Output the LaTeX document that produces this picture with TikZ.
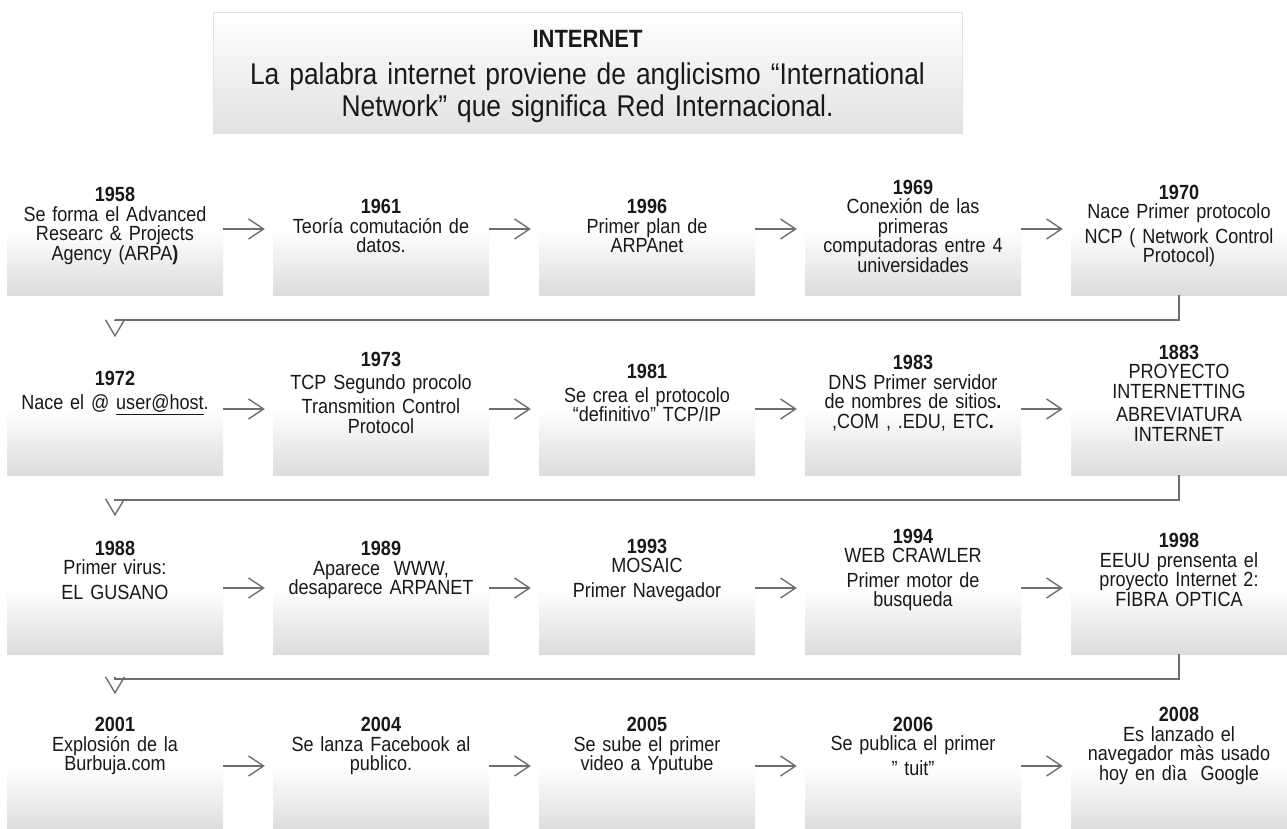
\documentclass[tikz,border=0pt]{standalone}
\usepackage{fontspec}
\setmainfont{Liberation Sans}[FakeStretch=0.88,WordSpace=0.85]
\usetikzlibrary{arrows.meta,calc}
\definecolor{boxgray}{RGB}{220,220,220}
\definecolor{titlegray}{RGB}{226,226,226}
\definecolor{linegray}{RGB}{110,110,110}
\pgfdeclarearrow{
  name = OpenV,
  parameters = {\the\pgfarrowlength,\the\pgfarrowwidth,\the\pgfarrowlinewidth},
  setup code = {
    \pgfarrowssettipend{0pt}
    \pgfarrowssetlineend{-\pgfarrowlength}
    \pgfarrowssetbackend{-\pgfarrowlength}
    \pgfarrowssavethe\pgfarrowlength
    \pgfarrowssavethe\pgfarrowwidth
    \pgfarrowssavethe\pgfarrowlinewidth
  },
  drawing code = {
    \pgfsetlinewidth{\pgfarrowlinewidth}
    \pgfsetmiterjoin
    \pgfpathmoveto{\pgfpoint{-\pgfarrowlength}{.5\pgfarrowwidth}}
    \pgfpathlineto{\pgfpointorigin}
    \pgfpathlineto{\pgfpoint{-\pgfarrowlength}{-.5\pgfarrowwidth}}
    \pgfusepathqstroke
  },
  defaults = {length=16pt, width=19pt, line width=1.4pt}
}
\begin{document}
\begin{tikzpicture}[x=1pt,y=-1pt,
  evt/.style={minimum width=216pt, minimum height=132pt, inner sep=0pt,
    top color=white, bottom color=boxgray, middle color=white},
  evtext/.style={text width=214pt, align=center, inner sep=0pt,
    font=\fontsize{20.5}{19.5}\selectfont, text=black!90},
  titlebox/.style={minimum width=749pt, minimum height=121pt, inner sep=0pt,
    top color=white, bottom color=titlegray, draw=titlegray, line width=0.8pt},
  titletext/.style={text width=740pt, align=center, inner sep=0pt,
    font=\fontsize{30}{32}\selectfont, text=black!90},
  flow/.style={draw=linegray, line width=1.4pt, -{Straight Barb[length=15pt,width=20pt,line width=1.4pt]}},
  turn/.style={draw=linegray, line width=1.8pt,
    -{OpenV[length=16pt,width=19pt,line width=1.4pt]}}
]
\useasboundingbox (0,0) rectangle (1287,828);
\fill[white] (0,0) rectangle (1287,828);

\node[titlebox] (title) at (587.5,72.5) {};
\node[titletext] (titletxt) at ([yshift=-4pt]title) {{\fontsize{25}{32}\selectfont\bfseries INTERNET}\\[5pt]
La palabra internet proviene de anglicismo “International\\Network” que significa Red Internacional.};

% boxes
\foreach \r/\y in {1/229,2/409,3/588,4/766}{
  \foreach \c/\x in {1/115,2/381,3/647,4/913,5/1179}{
    \node[evt] (b\r\c) at (\x,\y) {};
  }
}

% texts
\node[evtext] (t11) at ([yshift=3pt]b11) {\textbf{1958}\\Se forma el Advanced\\Researc \& Projects\\Agency (ARPA\textbf{)}};
\node[evtext] (t12) at ([yshift=3pt]b12) {\textbf{1961}\\Teoría comutación de\\datos.};
\node[evtext] (t13) at ([yshift=3pt]b13) {\textbf{1996}\\Primer plan de\\ARPAnet};
\node[evtext] (t14) at ([yshift=3pt]b14) {\textbf{1969}\\Conexión de las\\primeras\\computadoras entre 4\\universidades};
\node[evtext] (t15) at ([yshift=3pt]b15) {\textbf{1970}\\Nace Primer protocolo\\[5pt]NCP ( Network Control\\Protocol)};

\node[evtext] (t21) at ([yshift=16pt]b21) {\textbf{1972}\\[4pt]Nace el @ \underline{user@host}.};
\node[evtext] (t22) at ([yshift=16pt]b22) {\textbf{1973}\\[3pt]TCP Segundo procolo\\[5pt]Transmition Control\\Protocol};
\node[evtext] (t23) at ([yshift=16pt]b23) {\textbf{1981}\\[4pt]Se crea el protocolo\\“definitivo” TCP/IP};
\node[evtext] (t24) at ([yshift=16pt]b24) {\textbf{1983}\\DNS Primer servidor\\de nombres de sitios\textbf{.}\\,COM , .EDU, ETC\textbf{.}};
\node[evtext] (t25) at ([yshift=16pt]b25) {\textbf{1883}\\PROYECTO\\INTERNETTING\\[4pt]ABREVIATURA\\INTERNET};

\node[evtext] (t31) at ([yshift=18pt]b31) {\textbf{1988}\\Primer virus:\\[5pt]EL GUSANO};
\node[evtext] (t32) at ([yshift=18pt]b32) {\textbf{1989}\\Aparece\ \ WWW,\\desaparece ARPANET};
\node[evtext] (t33) at ([yshift=18pt]b33) {\textbf{1993}\\MOSAIC\\[5pt]Primer Navegador};
\node[evtext] (t34) at ([yshift=18pt]b34) {\textbf{1994}\\WEB CRAWLER\\[5pt]Primer motor de\\busqueda};
\node[evtext] (t35) at ([yshift=18pt]b35) {\textbf{1998}\\EEUU prensenta el\\proyecto Internet\ 2:\\FIBRA OPTICA};

\node[evtext] (t41) at ([yshift=20pt]b41) {\textbf{2001}\\Explosión de la\\Burbuja.com};
\node[evtext] (t42) at ([yshift=20pt]b42) {\textbf{2004}\\Se lanza Facebook al\\publico.};
\node[evtext] (t43) at ([yshift=20pt]b43) {\textbf{2005}\\Se sube el primer\\video a Yputube};
\node[evtext] (t44) at ([yshift=20pt]b44) {\textbf{2006}\\Se publica el primer\\[5pt]" tuit"};
\node[evtext] (t45) at ([yshift=20pt]b45) {\textbf{2008}\\Es lanzado el\\navegador màs usado\\hoy en dìa\ \ Google};

% arrows within rows
\foreach \r in {1,2,3,4}{
  \foreach \a/\b in {1/2,2/3,3/4,4/5}{
    \draw[flow] (b\r\a.east) -- ([xshift=-8pt]b\r\b.west);
  }
}

% turning connectors
\coordinate (in2) at ($(b21.north)+(0,-7)$);
\coordinate (in3) at ($(b31.north)+(0,-7)$);
\coordinate (in4) at ($(b41.north)+(0,-7)$);
\draw[turn] (b15.south) -- ++(0,25) -| (in2);
\draw[turn] (b25.south) -- ++(0,25) -| (in3);
\draw[turn] (b35.south) -- ++(0,25) -| (in4);
\end{tikzpicture}
\end{document}
